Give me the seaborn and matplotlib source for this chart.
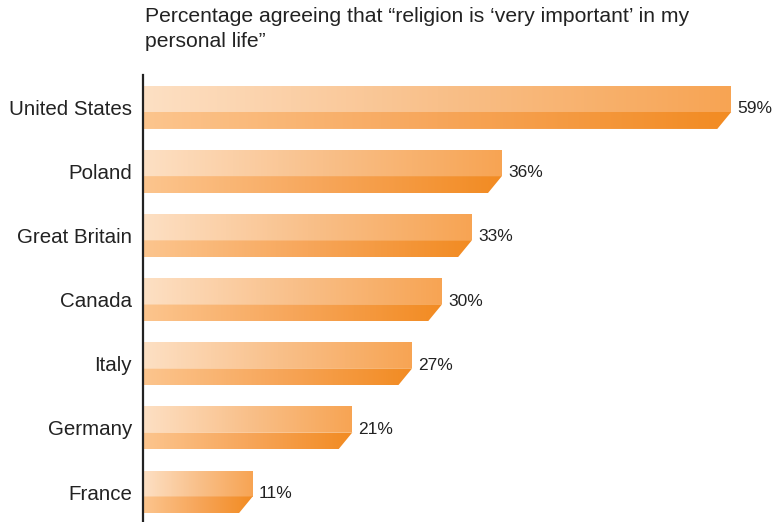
import numpy as np
import pandas as pd
import seaborn as sns
import matplotlib
matplotlib.use("Agg")
import matplotlib.pyplot as plt
from matplotlib.colors import LinearSegmentedColormap
from matplotlib.patches import Polygon

countries = ["United States", "Poland", "Great Britain", "Canada", "Italy", "Germany", "France"]
values = [59, 36, 33, 30, 27, 21, 11]
value_labels = ["59%", "36%", "33%", "30%", "27%", "21%", "11%"]
title = "Percentage agreeing that \u201creligion is \u2018very important\u2019 in my\npersonal life\u201d"

sns.set_style("white")
plt.rcParams["font.family"] = ["Liberation Sans", "DejaVu Sans"]

df = pd.DataFrame({"country": countries, "pct": values})

fig = plt.figure(figsize=(7.73, 5.22), dpi=100)
ax = fig.add_axes([143 / 773, 0.0, 630 / 773, 1 - 75 / 522])

sns.barplot(data=df, x="pct", y="country", orient="h", ax=ax,
            width=0.67, color="#f7a555", saturation=1)

top_cmap = LinearSegmentedColormap.from_list("top", ["#fde0c4", "#f9c08a", "#f7a453"])
bot_cmap = LinearSegmentedColormap.from_list("bot", ["#fcc58e", "#f7a65a", "#f28b22"])
grad = np.linspace(0, 1, 256).reshape(1, -1)

top_frac = 26 / 43
bevel = 1.4

for patch, lbl in zip(list(ax.patches), value_labels):
    x0 = patch.get_x()
    w = patch.get_width()
    y0 = patch.get_y()
    h = patch.get_height()
    x1 = x0 + w
    ysplit = y0 + h * top_frac
    y1 = y0 + h
    patch.set_visible(False)

    top_poly = Polygon([(x0, y0), (x1, y0), (x1, ysplit), (x0, ysplit)],
                       closed=True, facecolor="none", edgecolor="none")
    bot_poly = Polygon([(x0, ysplit), (x1, ysplit), (x1 - bevel, y1), (x0, y1)],
                       closed=True, facecolor="none", edgecolor="none")
    ax.add_patch(top_poly)
    ax.add_patch(bot_poly)

    im_t = ax.imshow(grad, cmap=top_cmap, extent=[x0, x1, ysplit, y0],
                     aspect="auto", interpolation="bicubic", zorder=2)
    im_t.set_clip_path(top_poly)
    im_b = ax.imshow(grad, cmap=bot_cmap, extent=[x0, x1, y1, ysplit],
                     aspect="auto", interpolation="bicubic", zorder=2)
    im_b.set_clip_path(bot_poly)

    ax.text(x1 + 0.6, y0 + h / 2 + 0.02, lbl, va="center", ha="left",
            fontsize=12.5, color="#222222")

ax.set_xlim(0, 630 / 9.97)
ax.set_ylim(6.468, -0.507)
ax.set_xlabel("")
ax.set_ylabel("")
ax.set_xticks([])
ax.tick_params(axis="y", length=0, pad=8, labelsize=14.8, labelcolor="#222222")
for side in ["top", "right", "bottom"]:
    ax.spines[side].set_visible(False)
ax.spines["left"].set_color("#222222")
ax.spines["left"].set_linewidth(1.6)
ax.spines["left"].set_zorder(5)

fig.text(145 / 773, 1 - 7 / 522, title, ha="left", va="top",
         fontsize=15.2, color="#222222", linespacing=1.42)

fig.savefig("out.png", dpi=100)
